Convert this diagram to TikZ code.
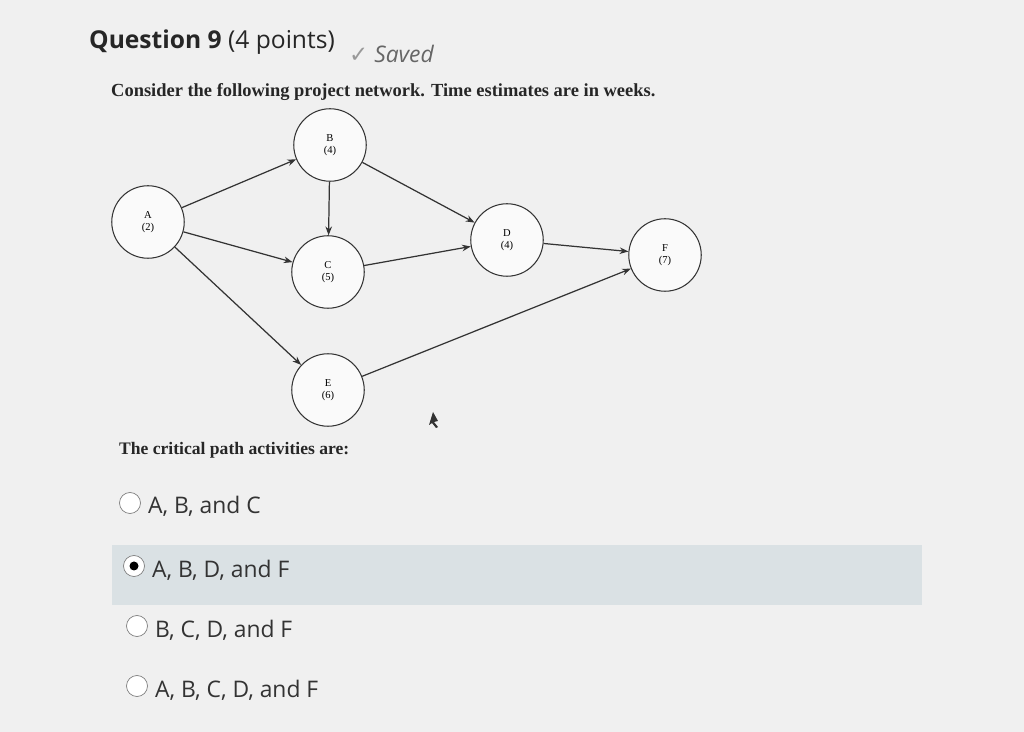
\documentclass[tikz,border=0pt]{standalone}
\usepackage{fontspec}
\setmainfont{Liberation Serif}
\newfontfamily\uisans{Open Sans}
\newfontfamily\symf{DejaVu Sans}
\usetikzlibrary{arrows.meta}
\begin{document}
\begin{tikzpicture}[x=0.02cm,y=-0.02cm,
  act/.style={circle,draw=black!80,line width=0.6pt,minimum size=1.45cm,inner sep=0pt,align=center,font=\fontsize{6}{7}\selectfont,fill=white!96!gray},
  arr/.style={-{Stealth[length=5pt]},line width=0.7pt,draw=black!80},
  opt/.style={anchor=west,font=\uisans\fontsize{13}{15}\selectfont,text=black!80},
  radio/.style={circle,draw=black!50,fill=white,minimum size=0.42cm,inner sep=0pt}]
\fill[gray!12] (0,0) rectangle (1024,732);
\useasboundingbox (0,0) rectangle (1024,732);
\fill[blue!25!cyan!15!gray!25] (112,545) rectangle (922,605);
\node[anchor=west,font=\uisans\bfseries\fontsize{14}{17}\selectfont,text=black!85] (q) at (83,42) {Question 9 {\mdseries(4 points)}};
\node[anchor=west,font=\uisans\itshape\fontsize{13}{15}\selectfont,text=black!60] (s) at (343,54) {{\symf\color{black!40}✓}\ Saved};
\node[anchor=west,font=\bfseries\fontsize{10.5}{13}\selectfont,text=black!85] (c) at (105,92) {Consider the following project network. Time estimates are in weeks.};
\node[act] (A) at (148,222) {A\\(2)};
\node[act] (B) at (330,145) {B\\(4)};
\node[act] (C) at (328,272) {C\\(5)};
\node[act] (E) at (328,390) {E\\(6)};
\node[act] (D) at (507,240) {D\\(4)};
\node[act] (F) at (665,255) {F\\(7)};
\draw[arr] (A) -- (B);
\draw[arr] (A) -- (C);
\draw[arr] (A) -- (E);
\draw[arr] (B) -- (C);
\draw[arr] (B) -- (D);
\draw[arr] (C) -- (D);
\draw[arr] (D) -- (F);
\draw[arr] (E) -- (F);
\fill[black!80] (433,412) -- (429,425) -- (432,423) -- (436,428) -- (438,427) -- (434,422) -- (438,421) -- cycle;
\node[anchor=west,font=\bfseries\fontsize{10}{12}\selectfont,text=black!85] (t) at (113,450) {The critical path activities are:};
\node[radio] (r1) at (130,503) {};
\node[opt] (o1) at (142,506) {A, B, and C};
\node[radio] (r2) at (134,566) {};
\fill[black] (r2) circle (4.5);
\node[opt] (o2) at (146,570) {A, B, D, and F};
\node[radio] (r3) at (137,626) {};
\node[opt] (o3) at (149,630) {B, C, D, and F};
\node[radio] (r4) at (137,686) {};
\node[opt] (o4) at (149,690) {A, B, C, D, and F};
\end{tikzpicture}
\end{document}
